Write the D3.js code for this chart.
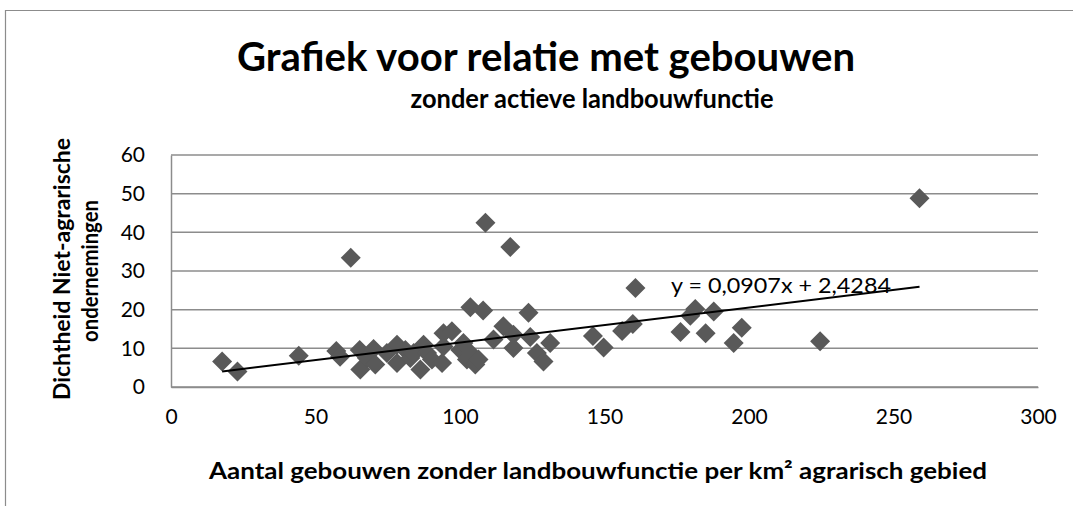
<!DOCTYPE html>
<html>
<head>
<meta charset="utf-8">
<script src="https://cdn.jsdelivr.net/npm/d3@7"></script>
<style>
  body { margin: 0; background: #fff; }
  svg text { font-family: Lato, "Noto Sans", sans-serif; }
</style>
</head>
<body>
<div id="chart-area"></div>
<script>
// gebouwen zonder landbouwfunctie per km2 (x) en dichtheid niet-agrarische ondernemingen (y)
const gebouwen = [17.7, 23.0, 44.2, 57.2, 58.5, 62.2, 65.3, 65.5, 67.8, 70.1, 70.7, 74.7, 78.2, 78.2, 81.1, 82.8, 84.0, 86.3, 87.4, 88.6, 90.3, 93.8, 94.3, 94.3, 97.2, 100.1, 101.2, 102.4, 103.6, 103.6, 105.3, 106.4, 108.0, 108.8, 111.6, 115.0, 117.4, 118.5, 118.5, 123.7, 124.3, 126.6, 128.9, 131.2, 146.0, 149.7, 156.1, 159.8, 160.7, 176.3, 179.7, 181.4, 185.0, 187.8, 194.7, 197.5, 224.6, 259.0];
const dichtheid = [6.6, 4.0, 8.1, 9.3, 7.8, 33.4, 9.6, 4.5, 7.5, 9.8, 5.8, 8.8, 10.9, 6.2, 9.6, 7.5, 8.8, 4.5, 10.9, 8.8, 7.1, 6.2, 10.5, 13.9, 14.4, 9.6, 11.4, 7.1, 8.8, 20.6, 5.8, 7.1, 19.8, 42.5, 12.3, 15.7, 36.2, 13.5, 10.1, 19.2, 12.9, 8.8, 6.6, 11.4, 13.2, 10.2, 14.5, 16.3, 25.6, 14.2, 18.4, 20.2, 13.9, 19.5, 11.4, 15.3, 11.8, 48.8];

const xTicks = [0, 50, 100, 150, 200, 250, 300];
const yTicks = [0, 10, 20, 30, 40, 50, 60];

// trendlijn uit de grafiek
const slope = 0.0907;
const intercept = 2.4284;
const trendLabel = "y = 0,0907x + 2,4284";

const titel = "Grafiek voor relatie met gebouwen";
const subtitel = "zonder actieve landbouwfunctie";
const xTitel = "Aantal gebouwen zonder landbouwfunctie per km² agrarisch gebied";
const yTitel = ["Dichtheid Niet-agrarische", "ondernemingen"];

let dataset = gebouwen.map((g, i) => ({ x: g, y: dichtheid[i] }));

let totalWidth = 1073, totalHeight = 506;
let margin = { top: 155, right: 35, bottom: 119, left: 171 },
  width = totalWidth - margin.left - margin.right,
  height = totalHeight - margin.top - margin.bottom;

let root = d3
  .select("#chart-area")
  .append("svg")
  .attr("width", totalWidth)
  .attr("height", totalHeight);

// rand van de grafiek
root.append("path")
  .attr("d", "M5.5," + totalHeight + "V10.5H" + totalWidth)
  .attr("fill", "none")
  .attr("stroke", "#8c8c8c")
  .attr("stroke-width", 1.2);

// titels
root.append("text")
  .attr("x", 546).attr("y", 71)
  .attr("text-anchor", "middle")
  .attr("font-size", 41).attr("font-weight", "bold")
  .attr("textLength", 618).attr("lengthAdjust", "spacingAndGlyphs")
  .text(titel);

root.append("text")
  .attr("x", 592).attr("y", 108)
  .attr("text-anchor", "middle")
  .attr("font-size", 26).attr("font-weight", "bold")
  .attr("textLength", 363).attr("lengthAdjust", "spacingAndGlyphs")
  .text(subtitel);

let svg = root
  .append("g")
  .attr("transform", "translate(" + margin.left + "," + margin.top + ")");

let xScale = d3.scaleLinear().domain([0, 300]).range([0, width]);
let yScale = d3.scaleLinear().domain([0, 60]).range([height, 0]);

// rasterlijnen
svg.append("g")
  .selectAll("line")
  .data(yTicks)
  .enter()
  .append("line")
  .attr("x1", 0).attr("x2", width)
  .attr("y1", d => yScale(d)).attr("y2", d => yScale(d))
  .attr("stroke", "#8c8c8c")
  .attr("stroke-width", 1.5);

// y-as
let yAxis = svg.append("g")
  .call(d3.axisLeft(yScale).tickValues(yTicks).tickSize(0).tickPadding(26));
yAxis.select(".domain").attr("stroke", "#8c8c8c").attr("stroke-width", 1.5);
yAxis.selectAll("text").attr("font-size", 21).attr("fill", "#000")
  .attr("font-family", "Lato, sans-serif");

// x-as
let xAxis = svg.append("g")
  .attr("transform", "translate(0," + height + ")")
  .call(d3.axisBottom(xScale).tickValues(xTicks).tickSize(0).tickPadding(22));
xAxis.select(".domain").attr("stroke", "#8c8c8c").attr("stroke-width", 1.5);
xAxis.selectAll("text").attr("font-size", 21).attr("fill", "#000")
  .attr("font-family", "Lato, sans-serif");

// punten
let diamond = d3.symbol().type(d3.symbolSquare).size(200);
svg.selectAll(".dot")
  .data(dataset)
  .enter()
  .append("path")
  .attr("class", "dot")
  .attr("d", diamond)
  .attr("transform", d => "translate(" + xScale(d.x) + "," + yScale(d.y) + ") rotate(45)")
  .attr("fill", "#595959");

// trendlijn
let xExtent = d3.extent(dataset, d => d.x);
let line = d3.line()
  .x(d => xScale(d))
  .y(d => yScale(slope * d + intercept));
svg.append("path")
  .datum(xExtent)
  .attr("d", line)
  .attr("fill", "none")
  .attr("stroke", "#000")
  .attr("stroke-width", 2);

svg.append("text")
  .attr("x", xScale(173)).attr("y", yScale(24.4))
  .attr("font-size", 21)
  .attr("textLength", 220).attr("lengthAdjust", "spacingAndGlyphs")
  .text(trendLabel);

// as-titels
root.append("text")
  .attr("x", 598).attr("y", 479)
  .attr("text-anchor", "middle")
  .attr("font-size", 23).attr("font-weight", "bold")
  .attr("textLength", 778).attr("lengthAdjust", "spacingAndGlyphs")
  .text(xTitel);

root.append("text")
  .attr("transform", "translate(70,269) rotate(-90)")
  .attr("text-anchor", "middle")
  .attr("font-size", 23).attr("font-weight", "bold")
  .attr("textLength", 262).attr("lengthAdjust", "spacingAndGlyphs")
  .text(yTitel[0]);

root.append("text")
  .attr("transform", "translate(98,271) rotate(-90)")
  .attr("text-anchor", "middle")
  .attr("font-size", 23).attr("font-weight", "bold")
  .attr("textLength", 142).attr("lengthAdjust", "spacingAndGlyphs")
  .text(yTitel[1]);
</script>
</body>
</html>
